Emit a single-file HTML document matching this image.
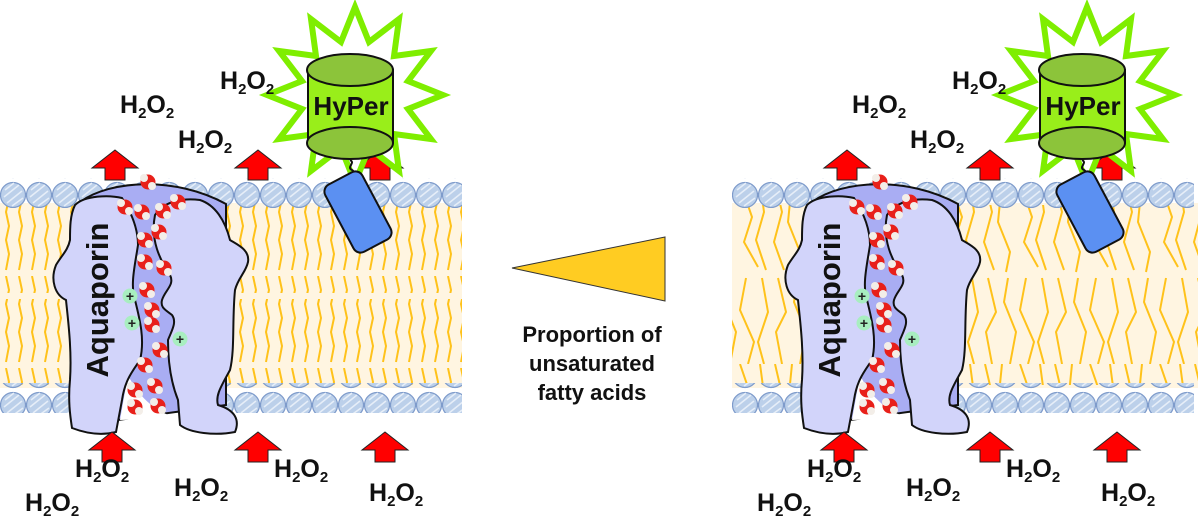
<!DOCTYPE html>
<html><head><meta charset="utf-8"><style>
html,body{margin:0;padding:0;background:#fff;width:1200px;height:518px;overflow:hidden}
text{font-family:"Liberation Sans",Arial,sans-serif;font-weight:bold}
</style></head><body>
<svg width="1200" height="518" viewBox="0 0 1200 518" xmlns="http://www.w3.org/2000/svg">
<defs>
<pattern id="lip" width="13" height="92" patternUnits="userSpaceOnUse">
<polyline points="6,0 9,14 6,28 9,42 6,56 9,70 6,86" fill="none" stroke="#ffc21a" stroke-width="2"/>
</pattern>
<pattern id="dis" width="70" height="182" patternUnits="userSpaceOnUse">
<g fill="none" stroke="#ffc21a" stroke-width="2">
<polyline points="5,0 12,30 4,60 14,88"/>
<polyline points="22,0 18,40 30,70 26,90"/>
<polyline points="40,0 52,35 44,60 58,85"/>
<polyline points="60,0 64,30 56,58 66,88"/>
<polyline points="8,96 16,130 6,150 12,182"/>
<polyline points="28,96 24,120 36,150 30,182"/>
<polyline points="46,96 40,128 54,160 48,182"/>
<polyline points="62,96 68,130 58,160 64,182"/>
</g>
</pattern>
<pattern id="beads" width="26" height="30" patternUnits="userSpaceOnUse">
<circle cx="13" cy="15" r="12.5" fill="#bcd0ea" stroke="#7e9bcb" stroke-width="1.2"/>
<path d="M5,10 L14,3 M4,17 L19,5 M7,23 L22,11 M12,26 L23,18" stroke="#e6eef8" stroke-width="1.6"/>
</pattern>
<g id="water">
<circle r="7.5" fill="#e8201a"/><circle cx="-4" cy="-4" r="4" fill="#f3eee8"/><circle cx="4" cy="4" r="4" fill="#f3eee8"/>
</g>
<g id="plus"><circle r="7.5" fill="#a8eec0"/><text x="0" y="5" font-size="14" text-anchor="middle" fill="#222">+</text></g>
<g id="up"><polygon points="0,0 23,18 10,18 10,30 -10,30 -10,18 -23,18" fill="#ff0000" stroke="#222" stroke-width="1"/></g>
<g id="panel">
<rect x="0" y="178" width="462" height="30" fill="url(#beads)"/>
<rect x="0" y="383" width="462" height="30" fill="url(#beads)"/>
<path d="M80,202 C110,180 175,176 226,204 L226,405 L118,420 Z" fill="#a9adf3" stroke="#111" stroke-width="2"/>
<path d="M128,375 C140,400 160,415 180,418 L120,420 Z" fill="#fff"/>
<path d="M75,205 C85,195 110,195 122,198 C133,215 138,230 138,245 C135,265 130,285 135,300 C140,320 145,340 140,360 C132,372 125,380 122,400 L116,432 C100,436 85,433 72,428 C70,415 68,400 70,380 C72,350 68,320 66,300 C55,295 50,280 56,265 C62,255 68,250 70,240 C70,228 70,215 75,205 Z" fill="#d2d4fa" stroke="#111" stroke-width="2"/>
<path d="M155,215 C165,200 185,198 200,200 C215,205 225,220 230,240 C238,245 250,250 248,262 C246,272 238,278 235,290 C232,320 235,350 230,370 C222,385 215,395 218,405 C235,410 240,420 235,432 C215,436 190,433 180,425 L178,400 C170,380 168,360 168,340 C172,330 177,322 172,315 C166,310 160,308 162,300 C165,290 175,285 170,275 C160,260 150,240 155,215 Z" fill="#d2d4fa" stroke="#111" stroke-width="2"/>
<text transform="translate(108,300) rotate(-90)" font-size="31" text-anchor="middle" fill="#111">Aquaporin</text>
<use href="#water" x="148" y="182"/><use href="#water" x="125" y="207"/><use href="#water" x="142" y="212"/><use href="#water" x="163" y="211"/><use href="#water" x="178" y="202"/>
<use href="#water" x="159" y="232"/><use href="#water" x="145" y="240"/><use href="#water" x="145" y="262"/><use href="#water" x="164" y="268"/><use href="#water" x="147" y="290"/>
<use href="#water" x="152" y="310"/><use href="#water" x="152" y="325"/><use href="#water" x="160" y="350"/><use href="#water" x="145" y="365"/><use href="#water" x="135" y="390"/>
<use href="#water" x="155" y="386"/><use href="#water" x="135" y="407"/><use href="#water" x="158" y="406"/>
<use href="#plus" x="130" y="296"/><use href="#plus" x="132" y="323"/><use href="#plus" x="180" y="339"/>
<use href="#up" x="115" y="150"/><use href="#up" x="258" y="150"/><use href="#up" x="380" y="150"/>
<use href="#up" x="112" y="432"/><use href="#up" x="258" y="432"/><use href="#up" x="385" y="432"/>
<polygon points="443,95 408,109 431,139 394,134 399,171 369,148 355,183 341,148 311,171 316,134 279,139 302,109 267,95 302,81 279,51 316,56 311,19 341,42 355,7 369,42 399,19 394,56 431,51 408,81" fill="#fff" stroke="#7fee00" stroke-width="6" stroke-linejoin="miter"/>
<path d="M308,70 L308,143 A43,16 0 0 0 393,143 L393,70 Z" fill="#99ee1a" stroke="#111" stroke-width="2"/>
<ellipse cx="350" cy="143" rx="43" ry="16" fill="#8cc43a" stroke="#111" stroke-width="2"/>
<ellipse cx="350" cy="70" rx="43" ry="16" fill="#8cc43a" stroke="#111" stroke-width="2"/>
<text x="351" y="115" font-size="26" text-anchor="middle" fill="#111">HyPer</text>
<path d="M350,160 C356,163 346,167 352,170 C358,173 345,176 352,180" fill="none" stroke="#111" stroke-width="2"/>
<rect x="337" y="174" width="42" height="76" rx="8" fill="#5b90f2" stroke="#111" stroke-width="2" transform="rotate(-28 358 212)"/>
<g font-size="25" fill="#111">
<text x="120" y="113">H<tspan font-size="15" dy="5">2</tspan><tspan dy="-5">O</tspan><tspan font-size="15" dy="5">2</tspan></text>
<text x="178" y="148">H<tspan font-size="15" dy="5">2</tspan><tspan dy="-5">O</tspan><tspan font-size="15" dy="5">2</tspan></text>
<text x="220" y="89">H<tspan font-size="15" dy="5">2</tspan><tspan dy="-5">O</tspan><tspan font-size="15" dy="5">2</tspan></text>
<text x="75" y="477">H<tspan font-size="15" dy="5">2</tspan><tspan dy="-5">O</tspan><tspan font-size="15" dy="5">2</tspan></text>
<text x="25" y="511">H<tspan font-size="15" dy="5">2</tspan><tspan dy="-5">O</tspan><tspan font-size="15" dy="5">2</tspan></text>
<text x="174" y="496">H<tspan font-size="15" dy="5">2</tspan><tspan dy="-5">O</tspan><tspan font-size="15" dy="5">2</tspan></text>
<text x="274" y="477">H<tspan font-size="15" dy="5">2</tspan><tspan dy="-5">O</tspan><tspan font-size="15" dy="5">2</tspan></text>
<text x="369" y="501">H<tspan font-size="15" dy="5">2</tspan><tspan dy="-5">O</tspan><tspan font-size="15" dy="5">2</tspan></text>
</g>
</g>
</defs>
<rect x="0" y="203" width="462" height="185" fill="#fff5e1"/>
<rect x="0" y="205" width="462" height="88" fill="url(#lip)"/>
<rect x="0" y="299" width="462" height="86" fill="url(#lip)"/>
<rect x="732" y="203" width="466" height="185" fill="#fff5e1"/>
<rect x="732" y="205" width="466" height="180" fill="url(#dis)"/>
<use href="#panel" x="0" y="0"/>
<use href="#panel" x="732" y="0"/>
<polygon points="512,268 665,237 665,301" fill="#ffcc22" stroke="#333" stroke-width="1"/>
<g font-size="22" fill="#111" text-anchor="middle">
<text x="592" y="342">Proportion of</text>
<text x="592" y="371">unsaturated</text>
<text x="592" y="400">fatty acids</text>
</g>
</svg>
</body></html>
